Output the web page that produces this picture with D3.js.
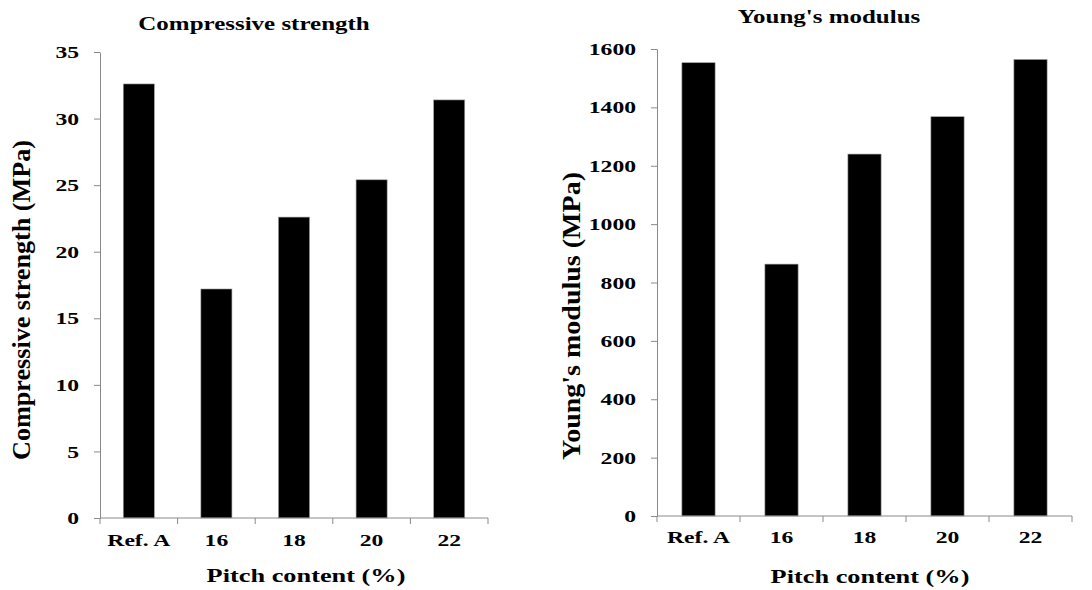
<!DOCTYPE html>
<html>
<head>
<meta charset="utf-8">
<script src="https://cdn.jsdelivr.net/npm/d3@7"></script>
<style>
  html, body { margin: 0; padding: 0; background: #fff; }
  svg { display: block; font-family: "Liberation Serif", "Times New Roman", serif; }
</style>
</head>
<body>
<svg id="chart" width="1092" height="590"></svg>
<script>
// ---- data ----
const categories = ["Ref. A", "16", "18", "20", "22"];
const compressiveStrength = [32.6, 17.2, 22.6, 25.4, 31.4];
const youngsModulus = [1553, 863, 1240, 1368, 1564];
const csTicks = [0, 5, 10, 15, 20, 25, 30, 35];
const ymTicks = [0, 200, 400, 600, 800, 1000, 1200, 1400, 1600];
const titles = ["Compressive strength", "Young's modulus"];
const yLabels = ["Compressive strength (MPa)", "Young's modulus (MPa)"];
const xLabel = "Pitch content (%)";

const SX = 1.35; // horizontal stretch of text in the reference
const svg = d3.select("#chart");
const axisColor = "#8a8a8a";

const panels = [
  { values: compressiveStrength, ticks: csTicks, max: 35, title: titles[0], yLabel: yLabels[0],
    x0: 100, x1: 488, yTop: 52, yBot: 518,
    titleX: 254, titleY: 30, yLabX: 29.5, yLabY: 300, yLabLen: 320,
    xTickY: 546, xLabX: 306, xLabY: 582 },
  { values: youngsModulus, ticks: ymTicks, max: 1600, title: titles[1], yLabel: yLabels[1],
    x0: 657, x1: 1072, yTop: 49, yBot: 516,
    titleX: 829, titleY: 23, yLabX: 579.5, yLabY: 316, yLabLen: 288,
    xTickY: 543, xLabX: 870, xLabY: 583 }
];

panels.forEach(p => {
  const g = svg.append("g");
  const x = d3.scaleBand().domain(categories).range([p.x0, p.x1])
    .paddingInner(0.6).paddingOuter(0.3);
  const y = d3.scaleLinear().domain([0, p.max]).range([p.yBot, p.yTop]);
  const gap = (x.step() - x.bandwidth()) / 2;

  // bars
  g.selectAll("rect.bar").data(p.values).join("rect")
    .attr("class", "bar")
    .attr("x", (d, i) => x(categories[i]))
    .attr("width", x.bandwidth())
    .attr("y", d => y(d))
    .attr("height", d => y(0) - y(d))
    .attr("fill", "#000")
    .attr("stroke", "#9a9a9a")
    .attr("stroke-width", 0.6);

  // y axis
  const ya = g.append("g").attr("transform", `translate(${p.x0},0)`)
    .call(d3.axisLeft(y).tickValues(p.ticks).tickFormat(d3.format("d"))
      .tickSize(6).tickSizeOuter(0).tickPadding(15));
  ya.select(".domain").attr("stroke", axisColor);
  ya.selectAll(".tick line").attr("stroke", axisColor);
  ya.selectAll(".tick text")
    .attr("font-family", "'Liberation Serif', 'Times New Roman', serif")
    .attr("font-size", 17.5).attr("font-weight", "bold").attr("fill", "#000")
    .attr("x", -21 / SX)
    .attr("transform", `scale(${SX},1)`);

  // x axis line
  g.append("line").attr("x1", p.x0).attr("x2", p.x1)
    .attr("y1", y(0)).attr("y2", y(0)).attr("stroke", axisColor);
  // category boundary ticks
  const bounds = categories.map(c => x(c) - gap).concat([x(categories[categories.length - 1]) + x.bandwidth() + gap]);
  g.selectAll("line.xt").data(bounds).join("line")
    .attr("class", "xt")
    .attr("x1", d => d).attr("x2", d => d)
    .attr("y1", y(0)).attr("y2", y(0) + 6)
    .attr("stroke", axisColor);
  // x tick labels
  g.selectAll("text.xl").data(categories).join("text")
    .attr("class", "xl")
    .attr("transform", c => `translate(${x(c) + x.bandwidth() / 2},${p.xTickY}) scale(${SX},1)`)
    .attr("text-anchor", "middle")
    .attr("font-size", 17.5).attr("font-weight", "bold").attr("fill", "#000")
    .text(c => c);

  // title
  g.append("text")
    .attr("transform", `translate(${p.titleX},${p.titleY}) scale(${SX},1)`)
    .attr("text-anchor", "middle").attr("font-size", 18.5).attr("font-weight", "bold")
    .text(p.title);

  // x label
  g.append("text")
    .attr("transform", `translate(${p.xLabX},${p.xLabY}) scale(${SX},1)`)
    .attr("text-anchor", "middle").attr("font-size", 19.5).attr("font-weight", "bold")
    .text(xLabel);

  // y label
  const yl = g.append("text")
    .attr("transform", `translate(${p.yLabX},${p.yLabY}) rotate(-90) scale(1,${SX})`)
    .attr("text-anchor", "middle").attr("font-size", 18).attr("font-weight", "bold")
    .text(p.yLabel);
  yl.attr("textLength", p.yLabLen).attr("lengthAdjust", "spacingAndGlyphs");
});
</script>
</body>
</html>
